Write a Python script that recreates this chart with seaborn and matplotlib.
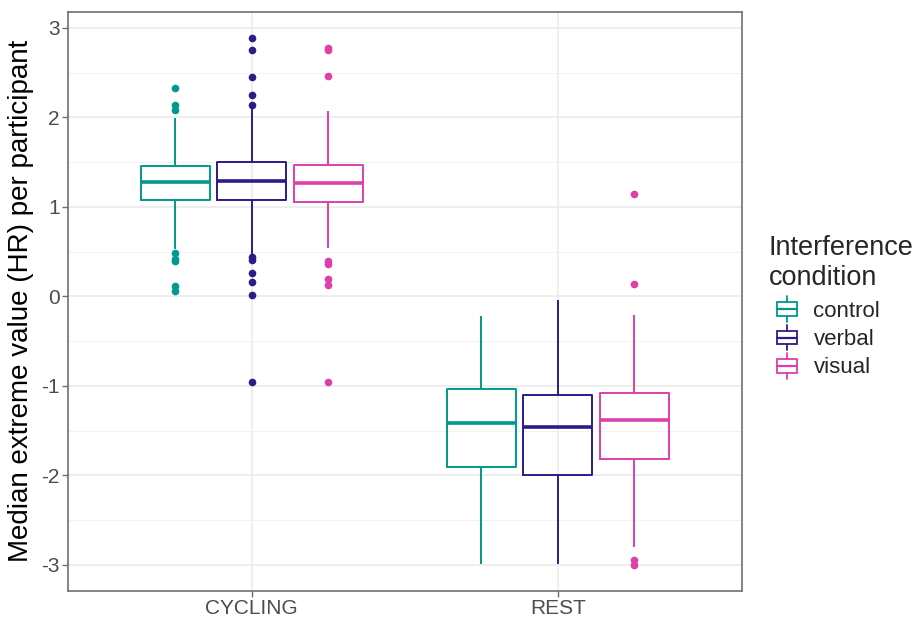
import matplotlib
matplotlib.use('Agg')
import matplotlib.pyplot as plt
import seaborn as sns
import pandas as pd
from matplotlib.patches import Rectangle
from matplotlib.lines import Line2D
from matplotlib.legend_handler import HandlerBase
from matplotlib.ticker import MultipleLocator

phases = ['CYCLING', 'REST']
conditions = ['control', 'verbal', 'visual']
colors = ['#00998C', '#2E1B87', '#DE3FAB']

# one entry per box, ordered CYCLING control/verbal/visual, REST control/verbal/visual
box_phase = ['CYCLING', 'CYCLING', 'CYCLING', 'REST', 'REST', 'REST']
box_condition = ['control', 'verbal', 'visual', 'control', 'verbal', 'visual']
whisker_low = [0.53, 0.47, 0.54, -2.99, -2.99, -2.80]
quart_1 = [1.08, 1.08, 1.05, -1.91, -1.99, -1.82]
medians = [1.28, 1.29, 1.27, -1.42, -1.46, -1.38]
quart_3 = [1.46, 1.50, 1.47, -1.04, -1.10, -1.08]
whisker_high = [1.99, 2.10, 2.07, -0.22, -0.04, -0.21]
outliers = [
    [2.33, 2.14, 2.08, 0.49, 0.42, 0.40, 0.12, 0.06],
    [2.89, 2.75, 2.45, 2.25, 2.14, 0.44, 0.41, 0.26, 0.16, 0.02, -0.96],
    [2.78, 2.75, 2.46, 0.40, 0.36, 0.19, 0.13, -0.96],
    [],
    [],
    [1.14, 0.14, -2.95, -3.00],
]

# long table whose quartiles / whiskers reproduce the summaries above
rows = []
for i in range(len(box_phase)):
    vals = [whisker_low[i], whisker_high[i]] + outliers[i]
    vals += [quart_1[i]] * 40 + [medians[i]] * 40 + [quart_3[i]] * 40
    for v in vals:
        rows.append({'phase': box_phase[i], 'condition': box_condition[i], 'value': v})
df = pd.DataFrame(rows)

sns.set_theme(style='white')
plt.rcParams['font.family'] = ['Liberation Sans', 'DejaVu Sans']

fig = plt.figure(figsize=(9.19, 6.2), dpi=100)
ax = fig.add_axes([0.074, 0.047, 0.733, 0.934])

sns.boxplot(
    data=df, x='phase', y='value', hue='condition',
    order=phases, hue_order=conditions, palette=colors,
    fill=False, width=0.75, gap=0.1, whis=1.5, linewidth=1.4,
    showcaps=False,
    medianprops=dict(linewidth=2.6),
    flierprops=dict(marker='o', markersize=5.5, markeredgewidth=0),
    legend=False, ax=ax,
)

# colour the outlier dots by their dodge position
for line in ax.lines:
    if line.get_marker() == 'o' and len(line.get_xdata()) > 0:
        x = line.get_xdata()[0]
        k = int(round((x - round(x)) / 0.25)) + 1
        line.set_markerfacecolor(colors[k])
        line.set_markeredgecolor(colors[k])

ax.set_xlim(-0.6, 1.6)
ax.set_ylim(-3.29, 3.18)
ax.yaxis.set_major_locator(MultipleLocator(1))
ax.yaxis.set_minor_locator(MultipleLocator(0.5))
ax.set_yticklabels(['%d' % t for t in ax.get_yticks()])
ax.grid(True, which='major', color='#EBEBEB', linewidth=1.2)
ax.grid(True, which='minor', axis='y', color='#F2F2F2', linewidth=0.7)
ax.set_axisbelow(True)
for s in ax.spines.values():
    s.set_color('#6F6F6F')
    s.set_linewidth(1.2)
ax.tick_params(axis='both', which='major', length=4, width=1, color='#6F6F6F',
               labelsize=15, labelcolor='#4D4D4D', pad=2, direction='out',
               bottom=True, left=True)
ax.tick_params(axis='y', which='minor', length=0)
ax.set_xlabel('')
ax.set_ylabel('Median extreme value (HR) per participant', fontsize=20,
              color='black', labelpad=5)


class BoxKey(HandlerBase):
    def create_artists(self, legend, orig_handle, xdescent, ydescent,
                       width, height, fontsize, trans):
        c = orig_handle.get_edgecolor()
        x0, w = -xdescent + 4, width
        y0, h = -ydescent, height
        box = Rectangle((x0 + w * 0.1, y0 + h * 0.15), w * 0.8, h * 0.7,
                        facecolor='white', edgecolor=c, linewidth=1.3,
                        transform=trans)
        mid = Line2D([x0 + w * 0.1, x0 + w * 0.9], [y0 + h * 0.5] * 2,
                     color=c, linewidth=1.6, transform=trans)
        top = Line2D([x0 + w / 2] * 2, [y0 + h * 0.85, y0 + h * 1.15],
                     color=c, linewidth=1.3, transform=trans)
        bot = Line2D([x0 + w / 2] * 2, [y0 - h * 0.15, y0 + h * 0.15],
                     color=c, linewidth=1.3, transform=trans)
        return [box, mid, top, bot]


handles = [Rectangle((0, 0), 1, 1, facecolor='white', edgecolor=c) for c in colors]
leg = fig.legend(handles, conditions, title='Interference\ncondition',
                 loc='upper left', bbox_to_anchor=(0.815, 0.653),
                 frameon=False, fontsize=16, title_fontsize=19.5,
                 handler_map={Rectangle: BoxKey()}, handlelength=1.1,
                 handleheight=1.0, handletextpad=0.9, labelspacing=0.25)
leg._legend_box.align = 'left'
leg._legend_box.sep = 6

fig.savefig('out.png', dpi=100)
